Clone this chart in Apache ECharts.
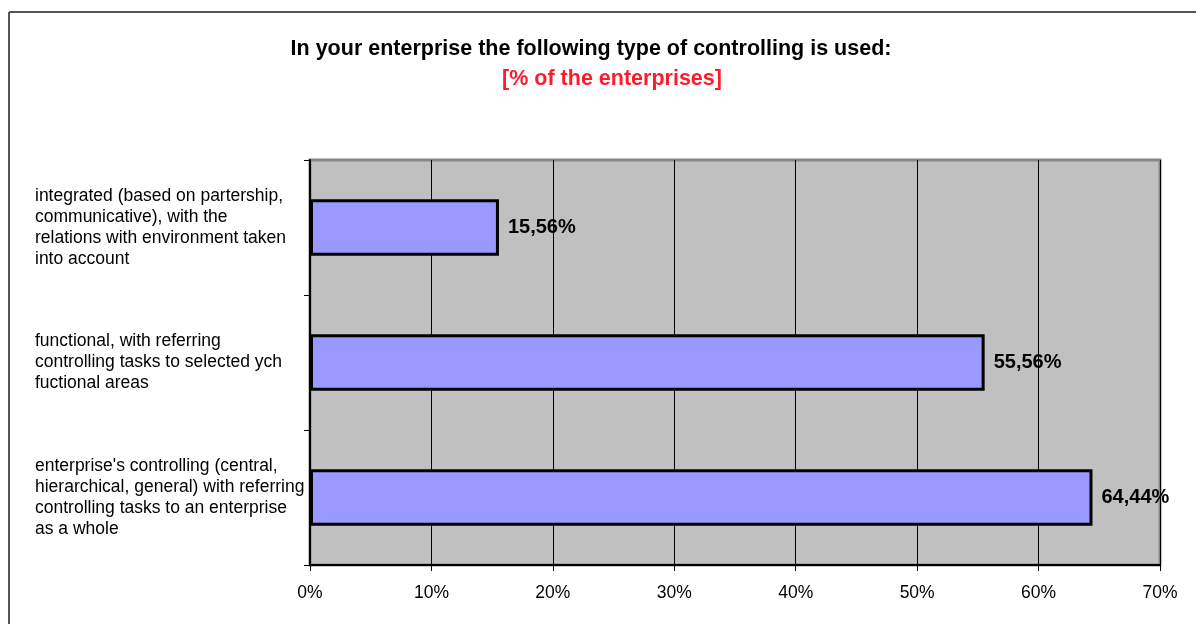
<!DOCTYPE html>
<html>
<head>
<meta charset="utf-8">
<script src="https://cdn.jsdelivr.net/npm/echarts@6/dist/echarts.min.js"></script>
<style>
  html, body { margin: 0; padding: 0; background: #fff; }
  #chart { width: 1196px; height: 624px; }
</style>
</head>
<body>
<div id="chart"></div>
<script>
// Controlling types, listed bottom to top as on the category axis
const categories = [
  "enterprise's controlling (central,\nhierarchical, general) with referring\ncontrolling tasks to an enterprise\nas a whole",
  "functional, with referring\ncontrolling tasks to selected ych\nfuctional areas",
  "integrated (based on partership,\ncommunicative), with the\nrelations with environment taken\ninto account"
];
// Share of enterprises, in percent
const shares = [64.44, 55.56, 15.56];
const titleText = "In your enterprise the following type of controlling is used:";
const subtitleText = "[% of the enterprises]";

const FONT = '"Liberation Sans", Arial, sans-serif';
const chart = echarts.init(document.getElementById('chart'), null, { renderer: 'canvas' });

chart.setOption({
  backgroundColor: '#ffffff',
  animation: false,
  title: [
    {
      text: titleText,
      left: 586, top: 33, textAlign: 'center',
      textStyle: { fontFamily: FONT, fontSize: 21.5, fontWeight: 'bold', color: '#000' }
    },
    {
      text: subtitleText,
      left: 607, top: 63, textAlign: 'center',
      textStyle: { fontFamily: FONT, fontSize: 21.5, fontWeight: 'bold', color: '#ff1a2e' }
    }
  ],
  graphic: [
    { type: 'line', shape: { x1: 9, y1: 12, x2: 1196, y2: 12 }, style: { stroke: '#555', lineWidth: 2 } },
    { type: 'line', shape: { x1: 9, y1: 12, x2: 9, y2: 624 }, style: { stroke: '#555', lineWidth: 2 } }
  ],
  grid: {
    left: 310, right: 36, top: 160, bottom: 59,
    show: true,
    backgroundColor: '#c0c0c0',
    borderColor: '#878787',
    borderWidth: 3
  },
  xAxis: {
    type: 'value',
    min: 0, max: 70, interval: 10,
    axisLine: { show: true, lineStyle: { color: '#000', width: 2 } },
    axisTick: { show: true, length: 6, lineStyle: { color: '#000', width: 1 } },
    splitLine: { show: true, lineStyle: { color: '#000', width: 1 } },
    axisLabel: {
      margin: 19,
      formatter: v => v + '%',
      fontFamily: FONT, fontSize: 17.5, color: '#000'
    }
  },
  yAxis: {
    type: 'category',
    data: categories,
    axisLine: { show: true, lineStyle: { color: '#000', width: 2 } },
    axisTick: { show: true, length: 6, lineStyle: { color: '#000', width: 1 } },
    axisLabel: {
      align: 'left',
      margin: 275,
      lineHeight: 21,
      fontFamily: FONT, fontSize: 17.5, color: '#000'
    }
  },
  series: [{
    type: 'bar',
    data: shares,
    barWidth: '42%',
    itemStyle: { color: '#9999ff', borderColor: '#000', borderWidth: 3 },
    label: {
      show: true,
      position: 'right',
      distance: 9,
      formatter: p => p.value.toFixed(2).replace('.', ',') + '%',
      fontFamily: FONT, fontSize: 20, fontWeight: 'bold', color: '#000'
    }
  }]
});
</script>
</body>
</html>
